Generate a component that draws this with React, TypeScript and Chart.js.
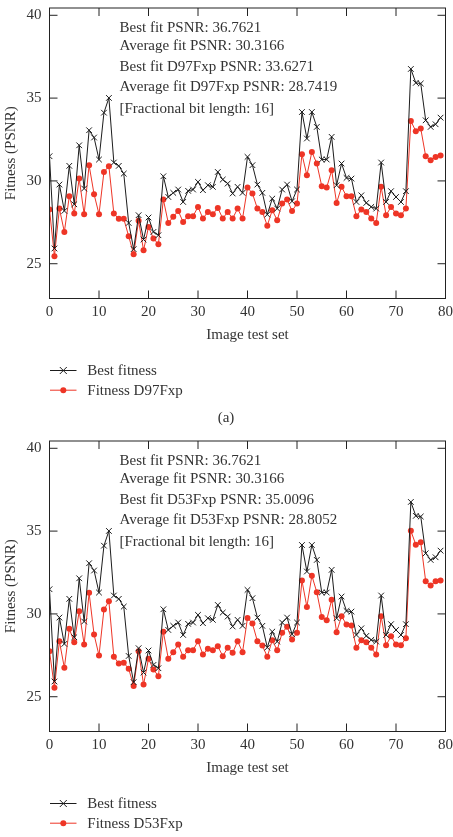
import React, { useEffect, useRef } from "react";
import { Chart, registerables } from "chart.js";

Chart.register(...registerables);

const imageIndex: number[] = Array.from({ length: 80 }, (_, i) => i);

const bestFitness: number[] = [
  31.49, 25.92, 29.78, 28.19, 30.91, 28.59, 32.15, 29.54, 33.06, 32.62,
  31.29, 34.12, 35.01, 31.11, 30.91, 30.44, 27.46, 25.88, 27.93, 26.46,
  27.79, 26.92, 26.72, 30.28, 29.03, 29.28, 29.48, 28.73, 29.4, 29.48,
  29.94, 29.44, 29.74, 29.64, 30.54, 30.08, 29.84, 29.24, 29.64, 29.28,
  31.45, 30.95, 29.78, 29.28, 27.97, 28.93, 28.33, 29.48, 29.78, 28.77,
  29.48, 34.16, 32.56, 34.16, 33.26, 31.29, 31.29, 32.66, 29.74, 31.05,
  30.18, 30.14, 28.73, 29.13, 28.67, 28.43, 28.33, 31.11, 28.73, 29.38,
  29.03, 28.73, 29.38, 36.76, 35.92, 35.88, 33.66, 33.26, 33.42, 33.82,
];

const fitnessD97Fxp: number[] = [
  28.27, 25.45, 28.33, 26.92, 29.07, 28.03, 30.14, 27.99, 30.95, 29.2,
  27.99, 30.54, 30.89, 28.03, 27.71, 27.71, 26.66, 25.57, 27.59, 25.81,
  27.22, 26.52, 26.18, 28.87, 27.46, 27.83, 28.19, 27.52, 27.87, 27.87,
  28.43, 27.73, 28.13, 27.99, 28.37, 27.73, 28.13, 27.73, 28.33, 27.73,
  29.6, 29.24, 28.33, 28.13, 27.3, 28.23, 27.63, 28.63, 28.87, 28.19,
  28.63, 31.61, 30.34, 31.75, 31.05, 29.68, 29.6, 30.64, 28.67, 29.64,
  29.07, 29.07, 27.87, 28.27, 28.13, 27.73, 27.46, 29.64, 27.93, 28.43,
  28.03, 27.93, 28.33, 33.62, 33.0, 33.16, 31.49, 31.25, 31.45, 31.53,
];

const fitnessD53Fxp: number[] = [
  27.75, 25.54, 28.35, 26.75, 29.1, 28.29, 30.16, 28.15, 31.27, 28.76,
  27.49, 30.26, 30.76, 27.41, 27.01, 27.05, 26.69, 25.64, 27.75, 25.74,
  27.29, 26.65, 26.24, 28.92, 27.29, 27.69, 28.15, 27.41, 27.81, 27.81,
  28.35, 27.55, 27.89, 27.81, 28.05, 27.45, 27.95, 27.65, 28.35, 27.69,
  29.76, 29.42, 28.35, 28.09, 27.41, 28.41, 27.81, 28.86, 29.22, 28.45,
  28.86, 32.01, 30.42, 32.31, 31.31, 29.82, 29.62, 30.86, 28.9, 29.86,
  29.36, 29.3, 27.95, 28.41, 28.29, 27.95, 27.55, 29.86, 28.11, 28.65,
  28.15, 28.11, 28.53, 35.02, 34.18, 34.32, 31.97, 31.71, 31.97, 32.01,
];

const xTickValues: number[] = [0, 10, 20, 30, 40, 50, 60, 70, 80];
const yTickValues: number[] = [25, 30, 35, 40];

const annotationA: string[] = [
  "Best fit PSNR: 36.7621",
  "Average fit PSNR: 30.3166",
  "Best fit D97Fxp PSNR: 33.6271",
  "Average fit D97Fxp PSNR: 28.7419",
  "[Fractional bit length: 16]",
];
const annotationB: string[] = [
  "Best fit PSNR: 36.7621",
  "Average fit PSNR: 30.3166",
  "Best fit D53Fxp PSNR: 35.0096",
  "Average fit D53Fxp PSNR: 28.8052",
  "[Fractional bit length: 16]",
];

const FONT = "'Liberation Serif', 'DejaVu Serif', serif";
const TEXT = "#333333";
const BLACK = "#1c1c1c";
const RED = "#ee3526";

const CHART_TOP = 8;
const CHART_BOTTOM = 298.5;
const CHART_LEFT = 49.5;
const CHART_RIGHT = 445.5;
const WIDTH = 453;

const decorPlugin = {
  id: "panelDecor",
  afterDraw(chart: any, _args: any, opts: any) {
    const ctx = chart.ctx;
    const { left, right, top, bottom } = chart.chartArea;
    const xs = chart.scales.x;
    const ys = chart.scales.y;
    ctx.save();
    ctx.strokeStyle = "#222";
    ctx.lineWidth = 1;
    ctx.strokeRect(left, top, right - left, bottom - top);
    const tl = 8;
    ctx.beginPath();
    xTickValues.forEach((v) => {
      const px = xs.getPixelForValue(v);
      ctx.moveTo(px, bottom);
      ctx.lineTo(px, bottom - tl);
      ctx.moveTo(px, top);
      ctx.lineTo(px, top + tl);
    });
    yTickValues.forEach((v) => {
      const py = ys.getPixelForValue(v);
      ctx.moveTo(left, py);
      ctx.lineTo(left + tl, py);
      ctx.moveTo(right, py);
      ctx.lineTo(right - tl, py);
    });
    ctx.stroke();

    ctx.fillStyle = TEXT;
    ctx.font = `15px ${FONT}`;
    ctx.save();
    ctx.translate(11, (top + bottom) / 2);
    ctx.rotate(-Math.PI / 2);
    ctx.textAlign = "center";
    ctx.textBaseline = "middle";
    ctx.fillText("Fitness (PSNR)", 0, 0);
    ctx.restore();

    ctx.textAlign = "left";
    ctx.textBaseline = "alphabetic";
    const baselines = [32, 49.5, 70.5, 91, 113];
    (opts.lines as string[]).forEach((t, i) => {
      ctx.fillText(t, 119.5, baselines[i]);
    });

    const legendRows = [
      { label: opts.legend[0], color: BLACK, y: 370.5, marker: "cross" },
      { label: opts.legend[1], color: RED, y: 390.2, marker: "dot" },
    ];
    legendRows.forEach((r) => {
      ctx.strokeStyle = r.color;
      ctx.lineWidth = 1;
      ctx.beginPath();
      ctx.moveTo(50, r.y);
      ctx.lineTo(76.5, r.y);
      ctx.stroke();
      const cx = 63.3;
      if (r.marker === "cross") {
        const d = 3.5;
        ctx.beginPath();
        ctx.moveTo(cx - d, r.y - d);
        ctx.lineTo(cx + d, r.y + d);
        ctx.moveTo(cx + d, r.y - d);
        ctx.lineTo(cx - d, r.y + d);
        ctx.stroke();
      } else {
        ctx.fillStyle = r.color;
        ctx.beginPath();
        ctx.arc(cx, r.y, 3, 0, Math.PI * 2);
        ctx.fill();
      }
      ctx.fillStyle = TEXT;
      ctx.textBaseline = "middle";
      ctx.fillText(r.label, 87.3, r.y + 1);
    });

    if (opts.caption) {
      ctx.textAlign = "center";
      ctx.textBaseline = "middle";
      ctx.fillText(opts.caption, 226, 418);
    }
    ctx.restore();
  },
};

function Panel(props: {
  top: number;
  height: number;
  series: number[];
  seriesLabel: string;
  lines: string[];
  caption?: string;
}) {
  const ref = useRef<HTMLCanvasElement | null>(null);
  useEffect(() => {
    if (!ref.current) return;
    const xAxisHeight = 45.5;
    const chart = new Chart(ref.current, {
      type: "line",
      data: {
        datasets: [
          {
            label: "Best fitness",
            data: bestFitness.map((v, i) => ({ x: imageIndex[i], y: v })),
            borderColor: BLACK,
            backgroundColor: BLACK,
            borderWidth: 1,
            pointStyle: "crossRot",
            pointRadius: 4,
            pointBorderWidth: 1,
            tension: 0,
          },
          {
            label: props.seriesLabel,
            data: props.series.map((v, i) => ({ x: imageIndex[i], y: v })),
            borderColor: RED,
            backgroundColor: RED,
            borderWidth: 1,
            pointStyle: "circle",
            pointRadius: 3,
            pointBorderWidth: 0,
            tension: 0,
          },
        ],
      },
      options: {
        animation: false,
        responsive: false,
        devicePixelRatio: 1,
        layout: {
          padding: {
            left: 0,
            right: WIDTH - CHART_RIGHT,
            top: CHART_TOP,
            bottom: props.height - CHART_BOTTOM - xAxisHeight,
          },
        },
        plugins: {
          legend: { display: false },
          tooltip: { enabled: false },
          panelDecor: {
            lines: props.lines,
            legend: ["Best fitness", props.seriesLabel],
            caption: props.caption,
          },
        } as any,
        scales: {
          x: {
            type: "linear",
            min: 0,
            max: 80,
            grid: { display: false, drawTicks: false },
            border: { display: false },
            afterBuildTicks: (s: any) => {
              s.ticks = xTickValues.map((v) => ({ value: v }));
            },
            afterFit: (s: any) => {
              s.height = xAxisHeight;
              s.paddingLeft = 0;
              s.paddingRight = 0;
              s.paddingTop = 0;
              s.paddingBottom = 0;
            },
            ticks: {
              font: { family: FONT, size: 15, lineHeight: 1 },
              color: TEXT,
              padding: 6,
              maxRotation: 0,
            },
            title: {
              display: true,
              text: "Image test set",
              font: { family: FONT, size: 15, lineHeight: 1.2 },
              color: TEXT,
              padding: 0,
            },
          },
          y: {
            type: "linear",
            min: 22.9,
            max: 40.44,
            grid: { display: false, drawTicks: false },
            border: { display: false },
            afterBuildTicks: (s: any) => {
              s.ticks = yTickValues.map((v) => ({ value: v }));
            },
            afterFit: (s: any) => {
              s.width = CHART_LEFT;
              s.paddingLeft = 0;
              s.paddingRight = 0;
              s.paddingTop = 0;
              s.paddingBottom = 0;
            },
            ticks: {
              font: { family: FONT, size: 15, lineHeight: 1 },
              color: TEXT,
              padding: 8,
            },
          },
        },
      },
      plugins: [decorPlugin],
    } as any);
    return () => chart.destroy();
  }, []);
  return (
    <canvas
      ref={ref}
      width={WIDTH}
      height={props.height}
      style={{
        position: "absolute",
        left: 0,
        top: props.top,
        width: WIDTH,
        height: props.height,
      }}
    />
  );
}

export default function App() {
  return (
    <div
      style={{
        position: "absolute",
        left: 0,
        top: 0,
        width: 453,
        height: 837,
        background: "#fff",
        overflow: "hidden",
      }}
    >
      <Panel
        top={0}
        height={433}
        series={fitnessD97Fxp}
        seriesLabel="Fitness D97Fxp"
        lines={annotationA}
        caption="(a)"
      />
      <Panel
        top={433}
        height={404}
        series={fitnessD53Fxp}
        seriesLabel="Fitness D53Fxp"
        lines={annotationB}
      />
    </div>
  );
}
